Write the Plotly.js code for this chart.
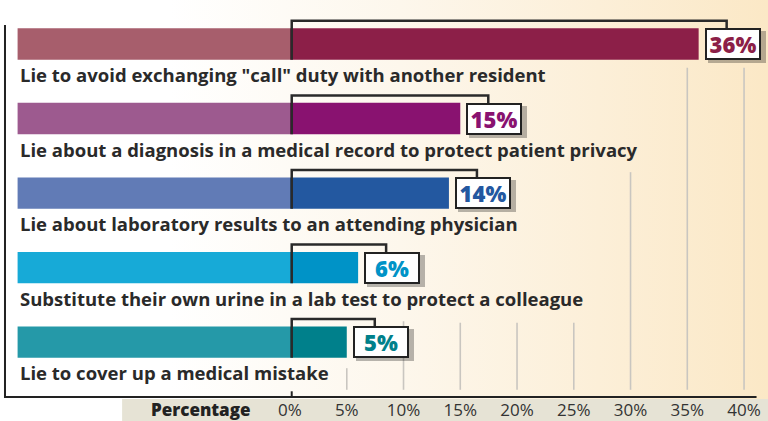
<!DOCTYPE html>
<html>
<head>
<meta charset="utf-8">
<script src="https://cdn.plot.ly/plotly-3.0.1.min.js"></script>
<style>
  html, body { margin: 0; padding: 0; }
  body { width: 768px; height: 421px; overflow: hidden;
    background: linear-gradient(to right, #ffffff 0%, #ffffff 22%, #fdf7ec 52%, #fcefd8 78%, #fbe8c6 100%); }
  #chart { width: 768px; height: 421px; }
</style>
</head>
<body>
<div id="chart"></div>
<script>
// ---- data ----
const categories = [
  'Lie to avoid exchanging "call" duty with another resident',
  'Lie about a diagnosis in a medical record to protect patient privacy',
  'Lie about laboratory results to an attending physician',
  'Substitute their own urine in a lab test to protect a colleague',
  'Lie to cover up a medical mistake'
];
const values = [36, 15, 14, 6, 5];
const tickValues = [0, 5, 10, 15, 20, 25, 30, 35, 40];
const tickLabels = ['0%', '5%', '10%', '15%', '20%', '25%', '30%', '35%', '40%'];
const axisTitle = 'Percentage';

// ---- styles ----
const lightColors = ['#a75e6c', '#9d5a8f', '#617bb6', '#17aad7', '#2599a8'];
const darkColors  = ['#8c1f48', '#891270', '#2358a0', '#0093c7', '#00808b'];
const BAND = 24;          // width (in axis units) of the lighter band left of 0%
const PXU = 11.35;        // pixels per axis unit (fixed range)
const FONT = 'Open Sans, sans-serif';
const rows = categories.map((_, i) => i);

const traces = [
  { type: 'bar', orientation: 'h', y: rows, x: rows.map(() => BAND), base: -BAND,
    width: 0.42, marker: { color: lightColors }, hoverinfo: 'skip' },
  { type: 'bar', orientation: 'h', y: rows, x: values, base: 0,
    width: 0.42, marker: { color: darkColors }, hoverinfo: 'skip' }
];

const shapes = [];
const annotations = [];

// bottom band behind tick labels
shapes.push({ type: 'rect', xref: 'paper', yref: 'paper', x0: 0.159, x1: 1, y0: -0.0025, y1: -0.07,
  fillcolor: '#e6e3d5', line: { width: 0 }, layer: 'below' });

// partial gridlines (start below the lowest row that reaches past them)
const gridStart = { 5: 4.35, 10: 3.72, 15: 3.74, 20: 3.74, 25: 3.74, 30: 1.72, 35: 0.32, 40: 0.32 };
tickValues.filter(t => t > 0).forEach(t => {
  shapes.push({ type: 'line', xref: 'x', yref: 'y', x0: t, x1: t, y0: gridStart[t], y1: 4.64,
    line: { color: '#c9c6c0', width: 1.6 }, layer: 'below' });
});

// frame and axis line
shapes.push({ type: 'path', xref: 'x', yref: 'y',
  path: 'M -25.11,-0.255 L -25.11,4.737 L 41.1,4.737', line: { color: '#222', width: 2 } });
shapes.push({ type: 'line', xref: 'x', yref: 'y', x0: 0.15, x1: 0.15, y0: 4.66, y1: 4.737,
  line: { color: '#222', width: 2 } });

rows.forEach(i => {
  const v = values[i];
  const xr = v + 28 / PXU;
  // bracket from 0% up and over to the value box
  shapes.push({ type: 'path', xref: 'x', yref: 'y',
    path: `M 0.15,${i + 0.21} L 0.15,${i - 0.31} L ${xr},${i - 0.31} L ${xr},${i - 0.2}`,
    line: { color: '#2a2a2a', width: 2.5 }, layer: 'above' });
  // category label
  annotations.push({ xref: 'x', yref: 'y', x: -BAND + 0.05, y: i + 0.41, xanchor: 'left', yanchor: 'middle',
    text: categories[i], showarrow: false,
    font: { family: FONT, size: 18.5, weight: 700, color: '#2a2a2a' } });
  // shadow of the value box
  annotations.push({ xref: 'x', yref: 'y', x: v, y: i, xanchor: 'left', yanchor: 'middle',
    xshift: 9, yshift: -3, text: ' ', showarrow: false, width: 56, height: 30, borderpad: 1,
    bgcolor: 'rgba(0,0,0,0.28)', borderwidth: 0 });
  // value box
  annotations.push({ xref: 'x', yref: 'y', x: v, y: i, xanchor: 'left', yanchor: 'middle',
    xshift: 6, text: v + '%', showarrow: false, width: 50, height: 26, borderpad: 1,
    bgcolor: '#ffffff', bordercolor: '#222', borderwidth: 2,
    font: { family: FONT, size: 22, weight: 800, color: darkColors[i] } });
});

annotations.push({ xref: 'paper', yref: 'paper', x: 0.262, y: -0.03, xanchor: 'center', yanchor: 'middle',
  text: axisTitle, showarrow: false,
  font: { family: FONT, size: 17, weight: 800, color: '#222' } });

const layout = {
  width: 768, height: 421,
  margin: { l: 0, r: 0, t: 0, b: 23, pad: 0 },
  paper_bgcolor: 'rgba(0,0,0,0)', plot_bgcolor: 'rgba(0,0,0,0)',
  barmode: 'overlay', showlegend: false, hovermode: false,
  xaxis: { range: [-25.55, 42.11], tickvals: tickValues, ticktext: tickLabels,
    showgrid: false, zeroline: false, showline: false, ticks: '',
    tickfont: { family: FONT, size: 17, color: '#333' }, fixedrange: true },
  yaxis: { range: [4.75, -0.59], showgrid: false, zeroline: false, showticklabels: false,
    showline: false, ticks: '', fixedrange: true },
  shapes: shapes,
  annotations: annotations
};

Plotly.newPlot('chart', traces, layout, { staticPlot: true, displayModeBar: false });
</script>
</body>
</html>
